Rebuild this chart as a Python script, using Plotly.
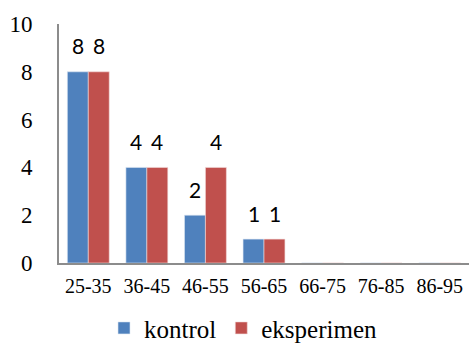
import plotly.graph_objects as go

# Age groups and respondent counts per group
categories = ["25-35", "36-45", "46-55", "56-65", "66-75", "76-85", "86-95"]
kontrol = [8, 4, 2, 1, 0, 0, 0]
eksperimen = [8, 4, 4, 1, 0, 0, 0]
y_ticks = [0, 2, 4, 6, 8, 10]

BLUE = "#4F81BD"
RED = "#C0504D"
SERIF = "Liberation Serif"
SANS = "Lato"

fig = go.Figure()
fig.add_trace(go.Bar(name="kontrol", x=categories, y=kontrol,
                     marker=dict(color=BLUE, line=dict(color="#dce6f2", width=0.6))))
fig.add_trace(go.Bar(name="eksperimen", x=categories, y=eksperimen,
                     marker=dict(color=RED, line=dict(color="#f2dcdb", width=0.6))))

# Value labels above the non-empty bars
for series, shift in ((kontrol, -10.5), (eksperimen, 10.5)):
    for cat, val in zip(categories, series):
        if val:
            fig.add_annotation(x=cat, y=val, text=str(val), showarrow=False,
                               xshift=shift, yshift=26, yanchor="middle",
                               font=dict(family=SANS, size=21, color="#000000"))

fig.update_layout(
    width=469, height=351,
    margin=dict(l=59, r=0, t=24, b=88, autoexpand=False),
    plot_bgcolor="white", paper_bgcolor="white",
    barmode="group", bargap=0.285, bargroupgap=0,
    showlegend=True,
    legend=dict(orientation="h", x=0.45, xanchor="center",
                yref="container", y=0.065, yanchor="middle",
                font=dict(family=SERIF, size=25, color="#000000"),
                itemwidth=30, traceorder="normal"),
    xaxis=dict(showline=True, linecolor="#8c8c8c", linewidth=2, showgrid=False,
               ticks="", tickfont=dict(family=SERIF, size=20, color="#000000"),
               ticklabelstandoff=4),
    yaxis=dict(range=[0, 10], tickvals=y_ticks, showline=True, linecolor="#8c8c8c",
               linewidth=2, showgrid=False, zeroline=False, ticks="",
               tickfont=dict(family=SERIF, size=23, color="#000000"),
               ticklabelstandoff=20),
)

fig.write_html("out.html")
